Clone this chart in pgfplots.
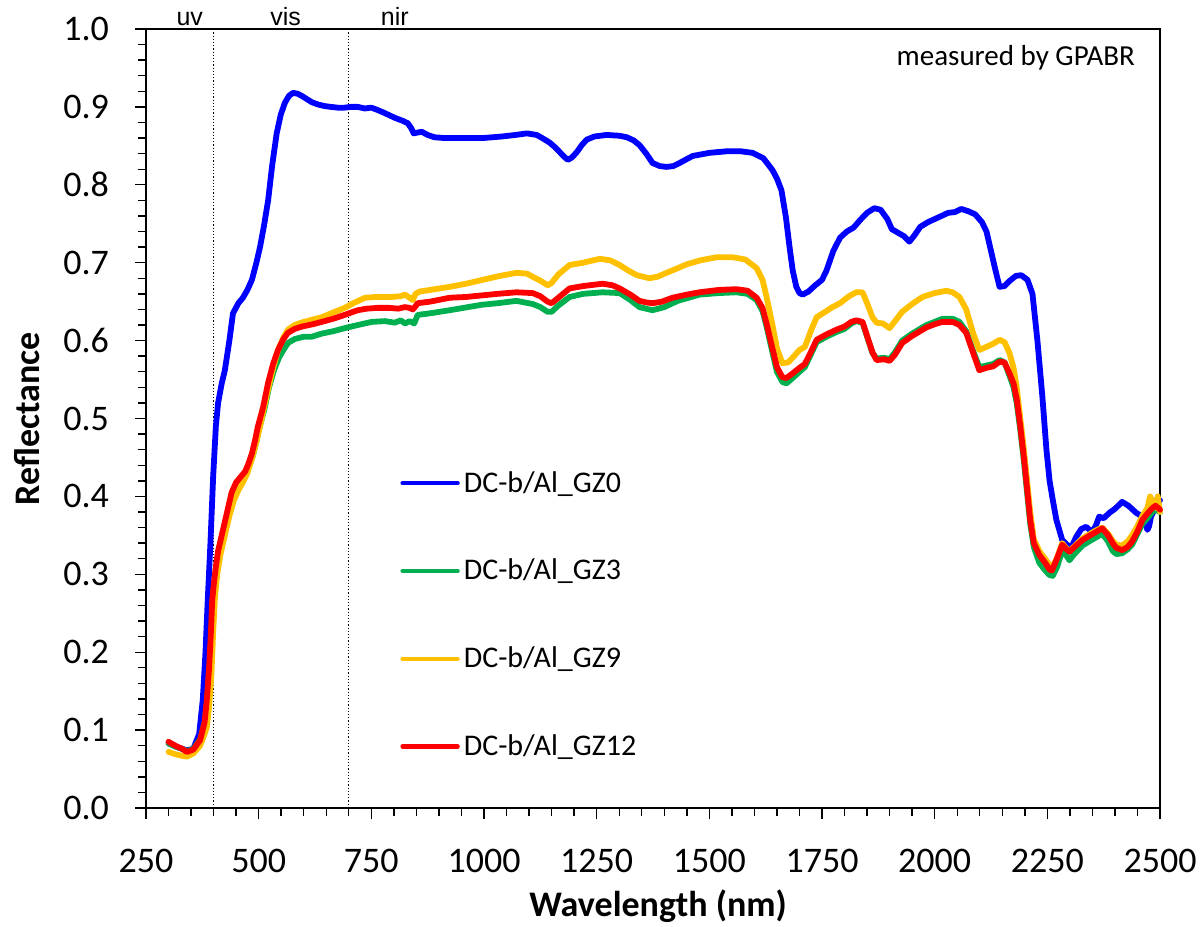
\documentclass[border=0pt]{standalone}
\usepackage{pgfplots}
\pgfplotsset{compat=1.18}
\usepackage{fontspec}
\setmainfont{Carlito}
\newfontfamily\arialf{Liberation Sans}
\definecolor{cblue}{RGB}{0,0,255}
\definecolor{cgreen}{RGB}{0,176,80}
\definecolor{cyellow}{RGB}{255,192,0}
\definecolor{cred}{RGB}{255,0,0}
\begin{document}
\begin{tikzpicture}
\begin{axis}[name=ax, scale only axis, width=507pt, height=389.5pt,
  xmin=250, xmax=2500, ymin=0, ymax=1,
  xtick={250,500,750,1000,1250,1500,1750,2000,2250,2500},
  ytick={0,0.1,0.2,0.3,0.4,0.5,0.6,0.7,0.8,0.9,1.0},
  minor x tick num=4, minor y tick num=4,
  tick align=outside, xtick pos=bottom, ytick pos=left,
  major tick length=5.5pt, minor tick length=4pt,
  tick style={black, line width=0.7pt},
  axis line style={black, line width=1pt},
  /pgf/number format/assume math mode=true,
  /pgf/number format/1000 sep={},
  tick label style={font=\fontsize{18}{20}\selectfont},
  yticklabel style={/pgf/number format/fixed, /pgf/number format/fixed zerofill, /pgf/number format/precision=1, xshift=-9.5pt},
  xticklabel style={yshift=-11.5pt},
  xlabel={\bfseries Wavelength (nm)},
  ylabel={\bfseries Reflectance},
  label style={font=\fontsize{18}{20}\selectfont},
  xlabel style={at={(axis description cs:0.505,0)}, anchor=center, yshift=-49pt},
  ylabel style={at={(axis description cs:-0.1174,0.5)}, anchor=center},
  clip=false,
  legend style={at={(axis description cs:0.2505,0.438)}, anchor=north west, draw=none, fill=none,
    font=\fontsize{15}{18}\selectfont, row sep=28pt, inner sep=0pt, cells={anchor=west}},
  legend image code/.code={\draw[#1, line width=2.2pt] (0pt,0pt) -- (27.5pt,0pt);},
  every axis plot/.append style={line width=2.9pt, line join=round, line cap=round},
]
\draw[black, densely dotted, line width=0.6pt] (axis cs:400,0) -- (axis cs:400,1);
\draw[black, densely dotted, line width=0.6pt] (axis cs:700,0) -- (axis cs:700,1);
\node[font=\arialf\fontsize{12.5}{14}\selectfont, anchor=base] at (axis cs:347,1) [yshift=1.5pt] {uv};
\node[font=\arialf\fontsize{12.5}{14}\selectfont, anchor=base] at (axis cs:560,1) [yshift=1.5pt] {vis};
\node[font=\arialf\fontsize{12.5}{14}\selectfont, anchor=base] at (axis cs:802,1) [yshift=1.5pt] {nir};
\node[font=\fontsize{14.5}{16}\selectfont, anchor=east] at (axis cs:2460,0.963) {measured by GPABR};

\addplot[cblue] coordinates {
(300,0.083)(320,0.078)(340,0.074)(355,0.076)(368,0.095)(376,0.139)(382,0.2)(387,0.267)(393,0.34)(399,0.425)(405,0.49)(410,0.520)(418,0.545)(425,0.562)(435,0.600)(443,0.635)(455,0.648)(465,0.655)(475,0.665)(485,0.678)(495,0.700)(503,0.720)(512,0.748)(521,0.780)(530,0.825)(540,0.866)(549,0.890)(558,0.905)(567,0.914)(576,0.918)(586,0.917)(596,0.914)(607,0.910)(618,0.906)(632,0.903)(647,0.901)(660,0.900)(676,0.899)(690,0.899)(705,0.900)(720,0.900)(735,0.898)(750,0.899)(764,0.896)(780,0.892)(802,0.886)(820,0.882)(831,0.879)(838,0.873)(844,0.866)(852,0.867)(862,0.868)(875,0.864)(890,0.861)(913,0.860)(950,0.860)(997,0.860)(1040,0.862)(1070,0.864)(1095,0.866)(1117,0.864)(1135,0.858)(1146,0.854)(1158,0.848)(1168,0.842)(1178,0.836)(1186,0.832)(1195,0.835)(1206,0.842)(1217,0.851)(1228,0.858)(1245,0.862)(1272,0.864)(1300,0.863)(1317,0.861)(1332,0.857)(1345,0.851)(1360,0.840)(1374,0.828)(1390,0.824)(1405,0.823)(1420,0.824)(1434,0.828)(1450,0.833)(1463,0.837)(1500,0.841)(1538,0.843)(1570,0.843)(1596,0.841)(1620,0.834)(1640,0.819)(1650,0.808)(1660,0.793)(1670,0.758)(1678,0.720)(1685,0.690)(1693,0.669)(1700,0.661)(1707,0.659)(1720,0.663)(1735,0.671)(1750,0.678)(1760,0.690)(1775,0.715)(1790,0.732)(1805,0.740)(1820,0.745)(1835,0.755)(1850,0.764)(1866,0.770)(1880,0.768)(1895,0.756)(1905,0.743)(1920,0.738)(1932,0.734)(1944,0.727)(1955,0.735)(1968,0.746)(1985,0.752)(2000,0.756)(2015,0.760)(2030,0.764)(2045,0.765)(2059,0.769)(2075,0.766)(2090,0.762)(2105,0.752)(2115,0.740)(2125,0.715)(2135,0.690)(2144,0.669)(2155,0.670)(2165,0.676)(2180,0.683)(2192,0.684)(2206,0.678)(2217,0.660)(2228,0.600)(2239,0.528)(2248,0.460)(2255,0.420)(2261,0.399)(2270,0.370)(2283,0.344)(2299,0.335)(2306,0.338)(2314,0.348)(2325,0.358)(2336,0.361)(2350,0.354)(2358,0.363)(2365,0.374)(2375,0.372)(2388,0.379)(2400,0.384)(2416,0.393)(2430,0.388)(2447,0.379)(2461,0.374)(2467,0.368)(2472,0.357)(2476,0.362)(2480,0.374)(2485,0.380)(2491,0.395)(2497,0.393)(2500,0.395)
};
\addlegendentry{DC-b/Al\_GZ0}

\addplot[cgreen] coordinates {
(300,0.083)(315,0.079)(330,0.076)(341,0.073)(355,0.076)(370,0.088)(380,0.11)(386,0.14)(391,0.18)(395,0.225)(398,0.267)(401,0.285)(406,0.31)(411,0.33)(421,0.355)(431,0.378)(441,0.40)(451,0.415)(461,0.422)(471,0.43)(478,0.438)(487,0.452)(494,0.468)(500,0.485)(512,0.51)(523,0.54)(534,0.562)(545,0.578)(555,0.588)(565,0.597)(580,0.602)(600,0.605)(618,0.605)(640,0.609)(665,0.612)(691,0.616)(720,0.620)(751,0.624)(780,0.625)(802,0.623)(815,0.626)(825,0.622)(835,0.625)(845,0.622)(853,0.633)(880,0.635)(924,0.639)(995,0.646)(1030,0.648)(1072,0.651)(1108,0.647)(1125,0.643)(1141,0.637)(1150,0.637)(1165,0.645)(1190,0.656)(1220,0.660)(1263,0.662)(1301,0.661)(1325,0.652)(1345,0.643)(1374,0.639)(1400,0.643)(1430,0.651)(1478,0.659)(1520,0.661)(1560,0.662)(1585,0.660)(1605,0.652)(1618,0.638)(1627,0.618)(1640,0.585)(1650,0.560)(1662,0.547)(1671,0.545)(1685,0.552)(1700,0.560)(1712,0.566)(1725,0.582)(1738,0.598)(1760,0.605)(1782,0.611)(1800,0.615)(1815,0.622)(1826,0.625)(1840,0.623)(1850,0.605)(1862,0.584)(1871,0.577)(1888,0.578)(1900,0.576)(1912,0.585)(1928,0.600)(1950,0.609)(1982,0.620)(2000,0.624)(2017,0.628)(2040,0.628)(2055,0.624)(2070,0.612)(2085,0.587)(2099,0.566)(2115,0.568)(2130,0.570)(2144,0.575)(2155,0.572)(2166,0.555)(2175,0.540)(2182,0.520)(2190,0.485)(2198,0.445)(2205,0.405)(2212,0.365)(2220,0.335)(2232,0.315)(2245,0.305)(2255,0.299)(2262,0.298)(2272,0.310)(2283,0.330)(2291,0.325)(2299,0.318)(2310,0.326)(2328,0.337)(2345,0.343)(2360,0.348)(2372,0.352)(2385,0.342)(2395,0.330)(2403,0.326)(2416,0.327)(2428,0.332)(2438,0.338)(2450,0.352)(2461,0.365)(2472,0.372)(2483,0.380)(2490,0.383)(2500,0.380)
};
\addlegendentry{DC-b/Al\_GZ3}

\addplot[cyellow] coordinates {
(300,0.072)(315,0.069)(330,0.067)(341,0.066)(355,0.070)(370,0.080)(380,0.095)(385,0.104)(390,0.13)(395,0.17)(399,0.225)(403,0.27)(408,0.30)(415,0.325)(425,0.35)(435,0.375)(445,0.395)(455,0.408)(465,0.418)(475,0.43)(485,0.448)(495,0.47)(505,0.495)(518,0.53)(530,0.56)(543,0.588)(555,0.604)(565,0.614)(580,0.620)(600,0.624)(620,0.627)(640,0.630)(665,0.636)(691,0.642)(710,0.648)(736,0.655)(760,0.656)(795,0.656)(815,0.657)(825,0.659)(835,0.655)(842,0.652)(848,0.660)(857,0.663)(880,0.665)(924,0.669)(960,0.673)(997,0.678)(1035,0.683)(1072,0.687)(1095,0.686)(1108,0.682)(1125,0.677)(1141,0.671)(1150,0.674)(1165,0.685)(1190,0.697)(1220,0.700)(1257,0.705)(1280,0.703)(1301,0.697)(1320,0.690)(1339,0.684)(1367,0.680)(1385,0.682)(1405,0.687)(1430,0.693)(1450,0.698)(1480,0.703)(1516,0.707)(1552,0.707)(1580,0.704)(1605,0.693)(1618,0.678)(1627,0.656)(1640,0.620)(1650,0.590)(1662,0.571)(1675,0.572)(1688,0.580)(1700,0.588)(1712,0.592)(1725,0.612)(1738,0.630)(1760,0.638)(1773,0.643)(1790,0.648)(1810,0.657)(1826,0.662)(1840,0.662)(1850,0.648)(1862,0.630)(1871,0.623)(1885,0.622)(1900,0.616)(1912,0.625)(1928,0.637)(1950,0.647)(1973,0.656)(2000,0.661)(2026,0.664)(2040,0.662)(2055,0.656)(2070,0.640)(2085,0.610)(2099,0.588)(2115,0.592)(2130,0.596)(2144,0.601)(2155,0.598)(2166,0.584)(2175,0.565)(2182,0.540)(2190,0.500)(2198,0.460)(2205,0.42)(2212,0.38)(2220,0.345)(2232,0.330)(2245,0.320)(2255,0.312)(2262,0.310)(2272,0.322)(2283,0.340)(2291,0.334)(2299,0.330)(2310,0.336)(2328,0.346)(2345,0.352)(2360,0.357)(2372,0.360)(2385,0.352)(2395,0.343)(2403,0.338)(2416,0.337)(2428,0.342)(2438,0.350)(2450,0.362)(2461,0.375)(2472,0.385)(2478,0.400)(2483,0.393)(2490,0.385)(2495,0.400)(2500,0.380)
};
\addlegendentry{DC-b/Al\_GZ9}

\addplot[cred] coordinates {
(300,0.085)(315,0.080)(330,0.076)(341,0.072)(355,0.075)(370,0.087)(380,0.110)(385,0.139)(390,0.18)(394,0.225)(397,0.267)(400,0.285)(405,0.31)(410,0.33)(420,0.355)(430,0.38)(440,0.405)(450,0.418)(460,0.425)(470,0.432)(476,0.440)(485,0.455)(492,0.472)(498,0.489)(510,0.515)(521,0.546)(532,0.570)(543,0.588)(555,0.602)(565,0.610)(580,0.615)(596,0.618)(620,0.621)(640,0.624)(665,0.628)(691,0.633)(705,0.636)(720,0.639)(740,0.641)(764,0.642)(790,0.642)(810,0.641)(824,0.643)(835,0.642)(842,0.640)(848,0.644)(853,0.648)(880,0.650)(924,0.655)(960,0.656)(995,0.658)(1030,0.660)(1072,0.662)(1108,0.661)(1125,0.657)(1141,0.650)(1150,0.648)(1165,0.655)(1190,0.667)(1220,0.670)(1263,0.673)(1285,0.671)(1301,0.667)(1325,0.659)(1345,0.651)(1360,0.649)(1374,0.648)(1395,0.650)(1418,0.655)(1450,0.659)(1478,0.662)(1520,0.665)(1560,0.666)(1585,0.664)(1605,0.655)(1618,0.642)(1627,0.622)(1640,0.590)(1650,0.566)(1662,0.553)(1671,0.552)(1685,0.558)(1700,0.565)(1712,0.570)(1725,0.585)(1738,0.601)(1760,0.608)(1782,0.614)(1800,0.618)(1815,0.624)(1826,0.626)(1840,0.624)(1850,0.606)(1862,0.585)(1871,0.575)(1888,0.576)(1900,0.574)(1912,0.582)(1928,0.597)(1950,0.606)(1982,0.617)(2000,0.621)(2017,0.624)(2040,0.624)(2055,0.620)(2070,0.610)(2085,0.585)(2099,0.562)(2115,0.565)(2130,0.567)(2144,0.573)(2155,0.572)(2166,0.558)(2175,0.545)(2182,0.525)(2190,0.49)(2198,0.45)(2205,0.41)(2212,0.37)(2220,0.34)(2232,0.325)(2245,0.315)(2255,0.306)(2260,0.305)(2270,0.318)(2283,0.338)(2291,0.333)(2299,0.329)(2310,0.335)(2328,0.344)(2345,0.350)(2360,0.355)(2372,0.359)(2385,0.350)(2395,0.340)(2403,0.334)(2416,0.331)(2428,0.335)(2438,0.342)(2450,0.355)(2461,0.370)(2472,0.378)(2483,0.385)(2490,0.388)(2500,0.383)
};
\addlegendentry{DC-b/Al\_GZ12}
\end{axis}
\pgfresetboundingbox
\path[use as bounding box] ([xshift=-73pt,yshift=-59pt]ax.south west) rectangle ([xshift=22pt,yshift=14.5pt]ax.north east);
\end{tikzpicture}
\end{document}
